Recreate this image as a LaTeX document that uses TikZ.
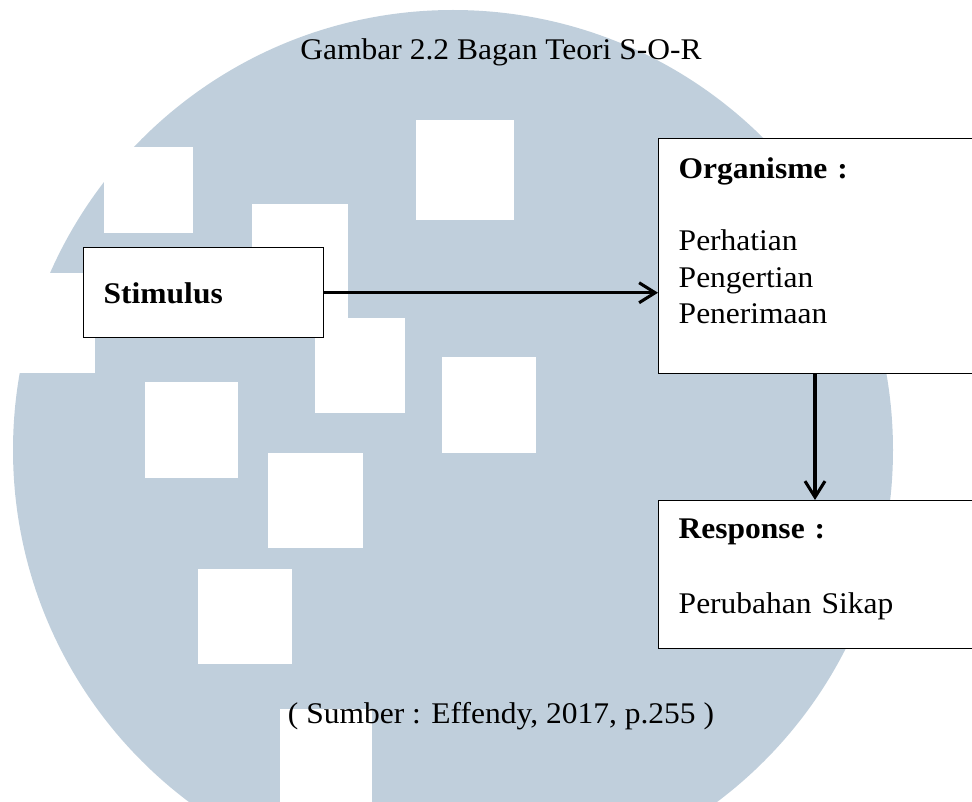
\documentclass[tikz,border=0pt]{standalone}
\usepackage{fontspec}
\setmainfont{Liberation Serif}[FakeStretch=1.05]
\usetikzlibrary{arrows}
\usetikzlibrary{arrows.meta}

\definecolor{logoblue}{RGB}{192,207,220}

\tikzset{
  sorbox/.style={draw, line width=1.1pt, fill=white, anchor=north west,
    align=left, inner xsep=15pt, inner ysep=0pt},
  sorarrow/.style={line width=2.3pt, -{Straight Barb[length=12pt,width=15pt]}}
}

\begin{document}
\begin{tikzpicture}[x=0.75pt,y=-0.75pt,font=\fontsize{22.5pt}{27.4pt}\selectfont]
\useasboundingbox (0,0) rectangle (972,802);
\clip (0,0) rectangle (972,802);
% watermark
\fill[logoblue] (453,450) circle (330pt);
\fill[white] (104,147) rectangle (193,233);
\fill[white] (252,204) rectangle (348,318);
\fill[white] (416,120) rectangle (514,220);
\fill[white] (0,273) rectangle (95,373);
\fill[white] (145,382) rectangle (238,478);
\fill[white] (315,318) rectangle (405,413);
\fill[white] (442,357) rectangle (536,453);
\fill[white] (268,453) rectangle (363,548);
\fill[white] (198,569) rectangle (292,664);
\fill[white] (280,709) rectangle (372,810);

\node[anchor=base] (title) at (501,60) {Gambar 2.2 Bagan Teori S-O-R};

\node[sorbox, text width=150pt, text height=42pt, text depth=25.5pt] (stim) at (83,247) {\textbf{Stimulus}};
\node[sorbox, text width=300pt, text height=30pt, text depth=146.25pt] (org) at (658,138)
  {\textbf{Organisme :}\\[26.6pt]Perhatian\\Pengertian\\Penerimaan};
\node[sorbox, text width=300pt, text height=28.5pt, text depth=82.5pt] (resp) at (658,500)
  {\textbf{Response :}\\[28.85pt]Perubahan Sikap};

\draw[sorarrow] (stim.east) -- (stim.east -| org.west);
\draw[sorarrow] ([xshift=117.75pt]org.south west) -- ([xshift=117.75pt]resp.north west);

\node[anchor=base] (src) at (501,723) {( Sumber : Effendy, 2017, p.255 )};
\end{tikzpicture}
\end{document}
